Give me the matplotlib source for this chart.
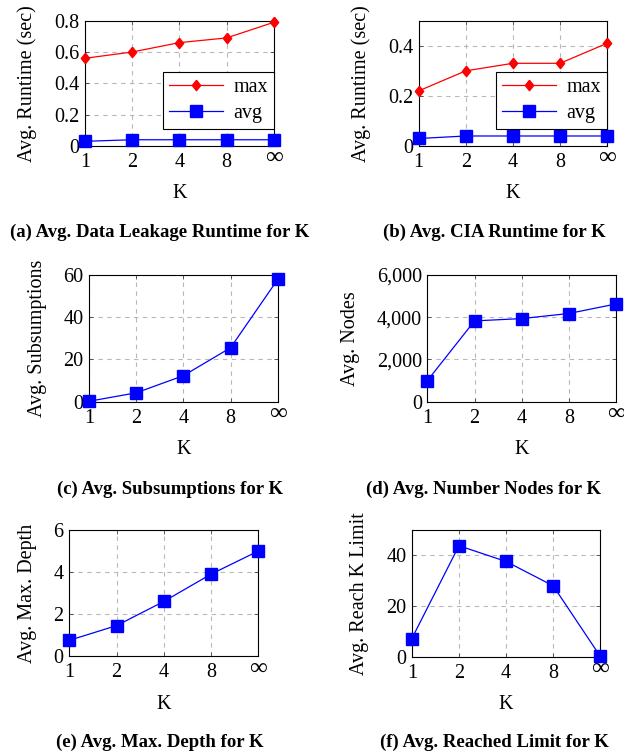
import matplotlib
matplotlib.use('Agg')
import matplotlib.pyplot as plt
from matplotlib.ticker import FuncFormatter

plt.rcParams['font.family'] = ['Liberation Serif', 'DejaVu Serif']

# ── data ─────────────────────────────────────────────────────────────────────
k_labels = ["1", "2", "4", "8", "∞"]

leak_max = [0.56, 0.60, 0.66, 0.69, 0.79]
leak_avg = [0.03, 0.04, 0.04, 0.04, 0.04]
cia_max  = [0.22, 0.30, 0.33, 0.33, 0.41]
cia_avg  = [0.03, 0.04, 0.04, 0.04, 0.04]
subsumptions = [0.2, 4.2, 12.3, 25.5, 57.8]
nodes        = [1000, 3820, 3930, 4170, 4620]
max_depth    = [0.75, 1.45, 2.6, 3.9, 5.0]
reach_limit  = [7.2, 43.8, 37.6, 28.0, 0.2]

BLUE = "#0000ff"
RED  = "#ff0000"
FS   = 14.5
DIAMOND = [(0, 1), (0.8, 0), (0, -1), (-0.8, 0), (0, 1)]

fig = plt.figure(figsize=(6.24, 7.55), dpi=100)

def make_ax(rect, ylim, yticks, ylabel, caption, cap_x, cap_y, fmt=None):
    ax = fig.add_axes(rect)
    x = list(range(len(k_labels)))
    ax.set_xlim(0, len(k_labels) - 1)
    ax.set_ylim(*ylim)
    ax.set_xticks(x)
    ax.set_xticklabels(k_labels)
    ax.set_yticks(yticks)
    if fmt is not None:
        ax.yaxis.set_major_formatter(FuncFormatter(fmt))
    ax.grid(True, color="#b8b8b8", linestyle=(0, (4, 4)), linewidth=0.8)
    ax.set_axisbelow(True)
    ax.tick_params(direction="in", length=3, width=0.6, top=True, right=True,
                   labelsize=FS, pad=4, color="#444444")
    ax.tick_params(axis="x", pad=5)
    inf_lbl = ax.get_xticklabels()[-1]
    inf_lbl.set_fontsize(18)
    inf_lbl.set_y(0.045)
    for s in ax.spines.values():
        s.set_linewidth(0.8)
    ax.set_xlabel("K", fontsize=FS, labelpad=9)
    ax.set_ylabel(ylabel, fontsize=FS, labelpad=12)
    fig.text(cap_x, cap_y, caption, ha="center", va="center",
             fontsize=13.5, fontweight="bold")
    return ax

def dec(v, pos):
    return "0" if v == 0 else f"{v:.1f}"

def thousands(v, pos):
    return f"{int(v):,}"

def add_legend(ax):
    leg = ax.legend(loc="lower right", bbox_to_anchor=(1, 0.136), borderaxespad=0,
                    fontsize=FS, fancybox=False, edgecolor="black", framealpha=1,
                    handlelength=2.7, borderpad=0.3, labelspacing=0.35, handletextpad=0.5)
    leg.get_frame().set_linewidth(0.8)

xs = list(range(len(k_labels)))

# (a)
ax = make_ax([0.136, 0.8066, 0.303, 0.166], (0, 0.8), [0, 0.2, 0.4, 0.6, 0.8],
             "Avg. Runtime (sec)", "(a) Avg. Data Leakage Runtime for K",
             160 / 624, 1 - 232 / 755, dec)
ax.plot(xs, leak_max, color=RED, lw=0.9, marker=DIAMOND, ms=7.5, clip_on=False, label="max", zorder=3)
ax.plot(xs, leak_avg, color=BLUE, lw=0.9, marker="s", ms=8.5, clip_on=False, label="avg", zorder=3)
add_legend(ax)

# (b)
ax = make_ax([0.671, 0.8066, 0.302, 0.166], (0, 0.5), [0, 0.2, 0.4],
             "Avg. Runtime (sec)", "(b) Avg. CIA Runtime for K",
             494 / 624, 1 - 232 / 755, dec)
ax.plot(xs, cia_max, color=RED, lw=0.9, marker=DIAMOND, ms=7.5, clip_on=False, label="max", zorder=3)
ax.plot(xs, cia_avg, color=BLUE, lw=0.9, marker="s", ms=8.5, clip_on=False, label="avg", zorder=3)
add_legend(ax)

# (c)
ax = make_ax([0.143, 0.468, 0.302, 0.168], (0, 60), [0, 20, 40, 60],
             "Avg. Subsumptions", "(c) Avg. Subsumptions for K",
             170 / 624, 1 - 489 / 755)
ax.plot(xs, subsumptions, color=BLUE, lw=0.9, marker="s", ms=8.5, clip_on=False, zorder=3)

# (d)
ax = make_ax([0.685, 0.468, 0.302, 0.168], (0, 6000), [0, 2000, 4000, 6000],
             "Avg. Nodes", "(d) Avg. Number Nodes for K",
             484 / 624, 1 - 489 / 755, thousands)
ax.plot(xs, nodes, color=BLUE, lw=0.9, marker="s", ms=8.5, clip_on=False, zorder=3)

# (e)
ax = make_ax([0.111, 0.131, 0.303, 0.167], (0, 6), [0, 2, 4, 6],
             "Avg. Max. Depth", "(e) Avg. Max. Depth for K",
             160 / 624, 1 - 742 / 755)
ax.plot(xs, max_depth, color=BLUE, lw=0.9, marker="s", ms=8.5, clip_on=False, zorder=3)

# (f)
ax = make_ax([0.660, 0.130, 0.302, 0.168], (0, 50), [0, 20, 40],
             "Avg. Reach K Limit", "(f) Avg. Reached Limit for K",
             494 / 624, 1 - 742 / 755)
ax.plot(xs, reach_limit, color=BLUE, lw=0.9, marker="s", ms=8.5, clip_on=False, zorder=3)

plt.savefig("out.png", dpi=100)
plt.close()
